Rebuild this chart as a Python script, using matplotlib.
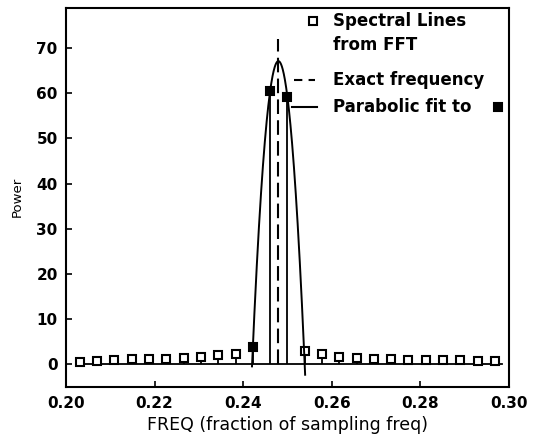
import numpy as np
import matplotlib
matplotlib.use("Agg")
import matplotlib.pyplot as plt

#*-*-*-*-*-*-*-*-*-*-*-*-*-*-*- DATA *-*-*-*-*-*-*-*-*-*-*-*-*-*-*-*-*-*-*-*-*-
n_fft = 256
bins = np.arange(52, 77)          # FFT bins shown between 0.20 and 0.30
freq = bins / n_fft
power = [0.4, 0.7, 0.9, 1.1, 1.1, 1.2, 1.3, 1.6, 2.0, 2.2,
         3.7, 60.5, 59.2,
         3.0, 2.2, 1.7, 1.3, 1.2, 1.1, 1.0, 0.9, 0.9, 0.9, 0.8, 0.8]
peak_bins = [62, 63, 64]          # lines used for the parabolic fit
exact_freq = 0.2479
exact_top = 72
fit_range = [0.242, 0.254]

xticks = [0.20, 0.22, 0.24, 0.26, 0.28, 0.30]
yticks = [0, 10, 20, 30, 40, 50, 60, 70]

#*-*-*-*-*-*-*-*-*-*-*-*-*-*-*- PLOT *-*-*-*-*-*-*-*-*-*-*-*-*-*-*-*-*-*-*-*-*-
plt.rcParams['font.family'] = 'DejaVu Sans'
plt.rcParams['font.weight'] = 'bold'

fig = plt.figure(figsize=(5.39, 4.42), dpi=100)
ax = fig.add_axes([0.1225, 0.125, 0.8215, 0.858])

power = np.array(power)
is_peak = np.isin(bins, peak_bins)

# zero line and stems
ax.plot([freq[0], freq[-1] + 0.0015], [0, 0], color='k', lw=1.3)
ax.vlines(freq, 0, power, color='k', lw=1.3)

# spectral lines
ax.plot(freq[~is_peak], power[~is_peak], ls='None', marker='s', ms=6,
        mfc='white', mec='k', mew=1.5)
ax.plot(freq[is_peak], power[is_peak], ls='None', marker='s', ms=6,
        mfc='k', mec='k', mew=1.5)

# parabolic fit through the three peak lines
coef = np.polyfit(freq[is_peak], power[is_peak], 2)
xf = np.linspace(fit_range[0], fit_range[1], 200)
ax.plot(xf, np.polyval(coef, xf), color='k', lw=1.4)

# exact frequency
ax.plot([exact_freq, exact_freq], [0, exact_top], color='k', lw=1.5,
        ls=(0, (7, 3)))

ax.set_xlim(0.20, 0.30)
ax.set_ylim(-5, 79)
ax.set_xticks(xticks)
ax.set_xticklabels(['%.2f' % t for t in xticks])
ax.set_yticks(yticks)
ax.tick_params(direction='in', length=4, width=1.2, labelsize=11, pad=6)
ax.tick_params(axis='x', pad=7)
for s in ax.spines.values():
    s.set_linewidth(1.5)

ax.set_xlabel('FREQ (fraction of sampling freq)', fontsize=12.5, labelpad=3)
ax.set_ylabel('Power', fontsize=9.5, labelpad=9)

# key, written straight into the axes
tx = 0.6027
fs = 12
ax.plot([0.5576], [0.9644], transform=ax.transAxes, marker='s', ms=6,
        mfc='white', mec='k', mew=1.5, clip_on=False)
ax.text(tx, 0.9644, 'Spectral Lines', transform=ax.transAxes, va='center', fontsize=fs)
ax.text(tx, 0.901, 'from FFT', transform=ax.transAxes, va='center', fontsize=fs)
ax.plot([0.5147, 0.562], [0.8088, 0.8088], transform=ax.transAxes, color='k',
        lw=1.5, ls=(0, (4, 3)))
ax.text(tx, 0.8088, 'Exact frequency', transform=ax.transAxes, va='center', fontsize=fs)
ax.plot([0.510, 0.5666], [0.7376, 0.7376], transform=ax.transAxes, color='k', lw=1.5)
ax.text(tx, 0.7376, 'Parabolic fit to', transform=ax.transAxes, va='center', fontsize=fs)
ax.plot([0.975], [0.7376], transform=ax.transAxes, marker='s', ms=6,
        mfc='k', mec='k', mew=1.5, clip_on=False)

plt.savefig('out.png', dpi=100)
